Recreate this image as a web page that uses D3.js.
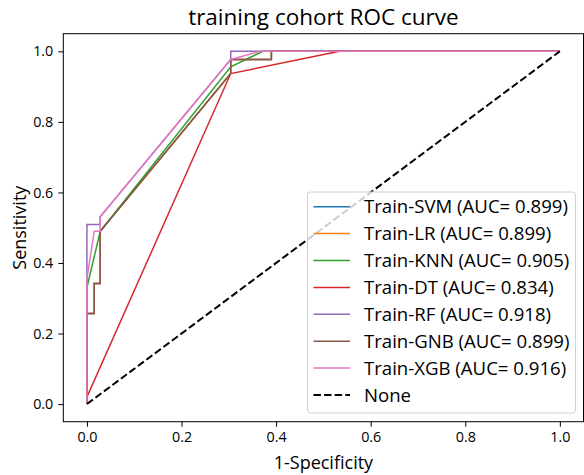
<!DOCTYPE html>
<html>
<head>
<meta charset="utf-8">
<script src="https://cdn.jsdelivr.net/npm/d3@7/dist/d3.min.js"></script>
<style>
  html, body { margin: 0; padding: 0; background: #fff; }
  svg { display: block; }
  text { font-family: "Open Sans", "Noto Sans", sans-serif; fill: #000; }
</style>
</head>
<body>
<svg id="chart" width="584" height="475"></svg>
<script>
// ROC curves (false positive rate, true positive rate) for each model
const modelNames = ["Train-SVM", "Train-LR", "Train-KNN", "Train-DT", "Train-RF", "Train-GNB", "Train-XGB"];
const aucValues = ["0.899", "0.899", "0.905", "0.834", "0.918", "0.899", "0.916"];
const colors = ["#1f77b4", "#ff7f0e", "#2ca02c", "#d62728", "#9467bd", "#8c564b", "#e377c2"];

const fprSVM = [0, 0, 0.0155, 0.0155, 0.028, 0.028, 0.304, 0.304, 0.39, 0.39, 1];
const tprSVM = [0, 0.257, 0.257, 0.342, 0.342, 0.49, 0.937, 0.977, 0.977, 1, 1];
const fprLR = [0, 0, 0.0155, 0.0155, 0.028, 0.028, 0.304, 0.304, 0.39, 0.39, 1];
const tprLR = [0, 0.257, 0.257, 0.342, 0.342, 0.49, 0.937, 0.977, 0.977, 1, 1];
const fprKNN = [0, 0, 0.028, 0.304, 0.372, 1];
const tprKNN = [0, 0.33, 0.49, 0.956, 1, 1];
const fprDT = [0, 0, 0.304, 0.534, 1];
const tprDT = [0, 0.02, 0.937, 1, 1];
const fprRF = [0, 0, 0.028, 0.028, 0.304, 0.304, 1];
const tprRF = [0, 0.509, 0.509, 0.531, 0.977, 1, 1];
const fprGNB = [0, 0, 0.0155, 0.0155, 0.028, 0.028, 0.304, 0.304, 0.39, 0.39, 1];
const tprGNB = [0, 0.257, 0.257, 0.342, 0.342, 0.49, 0.937, 0.977, 0.977, 1, 1];
const fprXGB = [0, 0, 0.0155, 0.028, 0.028, 0.304, 0.366, 1];
const tprXGB = [0, 0.355, 0.49, 0.49, 0.531, 0.977, 1, 1];

const fprList = [fprSVM, fprLR, fprKNN, fprDT, fprRF, fprGNB, fprXGB];
const tprList = [tprSVM, tprLR, tprKNN, tprDT, tprRF, tprGNB, tprXGB];

const chanceLine = [[0, 0], [1, 1]];
const tickValues = [0, 0.2, 0.4, 0.6, 0.8, 1.0];

const svg = d3.select("#chart");
const plot = { left: 63.3, right: 583.5, top: 33.7, bottom: 421.7 };

const x = d3.scaleLinear().domain([-0.05, 1.05]).range([plot.left, plot.right]);
const y = d3.scaleLinear().domain([-0.05, 1.05]).range([plot.bottom, plot.top]);

svg.append("clipPath").attr("id", "plotClip")
  .append("rect")
  .attr("x", plot.left).attr("y", plot.top)
  .attr("width", plot.right - plot.left).attr("height", plot.bottom - plot.top);

const line = d3.line().x(d => x(d[0])).y(d => y(d[1]));

const curves = svg.append("g").attr("clip-path", "url(#plotClip)");

modelNames.forEach((name, i) => {
  const pts = fprList[i].map((f, k) => [f, tprList[i][k]]);
  curves.append("path")
    .datum(pts)
    .attr("d", line)
    .attr("fill", "none")
    .attr("stroke", colors[i])
    .attr("stroke-width", 1.5)
    .attr("stroke-linejoin", "miter")
    .attr("stroke-linecap", "butt");
});

curves.append("path")
  .datum(chanceLine)
  .attr("d", line)
  .attr("fill", "none")
  .attr("stroke", "#000")
  .attr("stroke-width", 2)
  .attr("stroke-dasharray", "7.4,3.2");

// Axes
const fmt = d3.format(".1f");
const xAxis = svg.append("g")
  .attr("transform", `translate(0,${plot.bottom})`)
  .call(d3.axisBottom(x).tickValues(tickValues).tickFormat(fmt).tickSize(5).tickPadding(5));
const yAxis = svg.append("g")
  .attr("transform", `translate(${plot.left},0)`)
  .call(d3.axisLeft(y).tickValues(tickValues).tickFormat(fmt).tickSize(5).tickPadding(5));

[xAxis, yAxis].forEach(g => {
  g.select(".domain").remove();
  g.selectAll(".tick line").attr("stroke", "#000").attr("stroke-width", 1);
  g.selectAll(".tick text").attr("font-size", 14.3).attr("font-family", "\"Open Sans\", sans-serif");
});

// Frame
svg.append("rect")
  .attr("x", plot.left).attr("y", plot.top)
  .attr("width", plot.right - plot.left).attr("height", plot.bottom - plot.top)
  .attr("fill", "none").attr("stroke", "#000").attr("stroke-width", 1);

// Title and axis labels
svg.append("text")
  .attr("x", (plot.left + plot.right) / 2).attr("y", 25)
  .attr("text-anchor", "middle").attr("font-size", 22.5)
  .text("training cohort ROC curve");

svg.append("text")
  .attr("x", (plot.left + plot.right) / 2).attr("y", 469)
  .attr("text-anchor", "middle").attr("font-size", 18)
  .text("1-Specificity");

svg.append("text")
  .attr("transform", `translate(26,${(plot.top + plot.bottom) / 2}) rotate(-90)`)
  .attr("text-anchor", "middle").attr("font-size", 18)
  .text("Sensitivity");

// Legend
const legend = svg.append("g");
legend.append("rect")
  .attr("x", 307.5).attr("y", 192).attr("width", 268).attr("height", 221)
  .attr("rx", 3).attr("ry", 3)
  .attr("fill", "rgba(255,255,255,0.8)")
  .attr("stroke", "#d0d0d0").attr("stroke-width", 1);

const legendItems = modelNames.map((n, i) => ({ label: `${n} (AUC= ${aucValues[i]})`, color: colors[i], dash: null }))
  .concat([{ label: "None", color: "#000", dash: "7.4,3.2" }]);

legendItems.forEach((item, i) => {
  const cy = 206.7 + i * 26.9;
  legend.append("line")
    .attr("x1", 313.5).attr("x2", 350).attr("y1", cy).attr("y2", cy)
    .attr("stroke", item.color)
    .attr("stroke-width", item.dash ? 2 : 1.5)
    .attr("stroke-dasharray", item.dash);
  legend.append("text")
    .attr("x", 364).attr("y", cy).attr("dy", "0.35em")
    .attr("font-size", 18.6)
    .text(item.label);
});
</script>
</body>
</html>
